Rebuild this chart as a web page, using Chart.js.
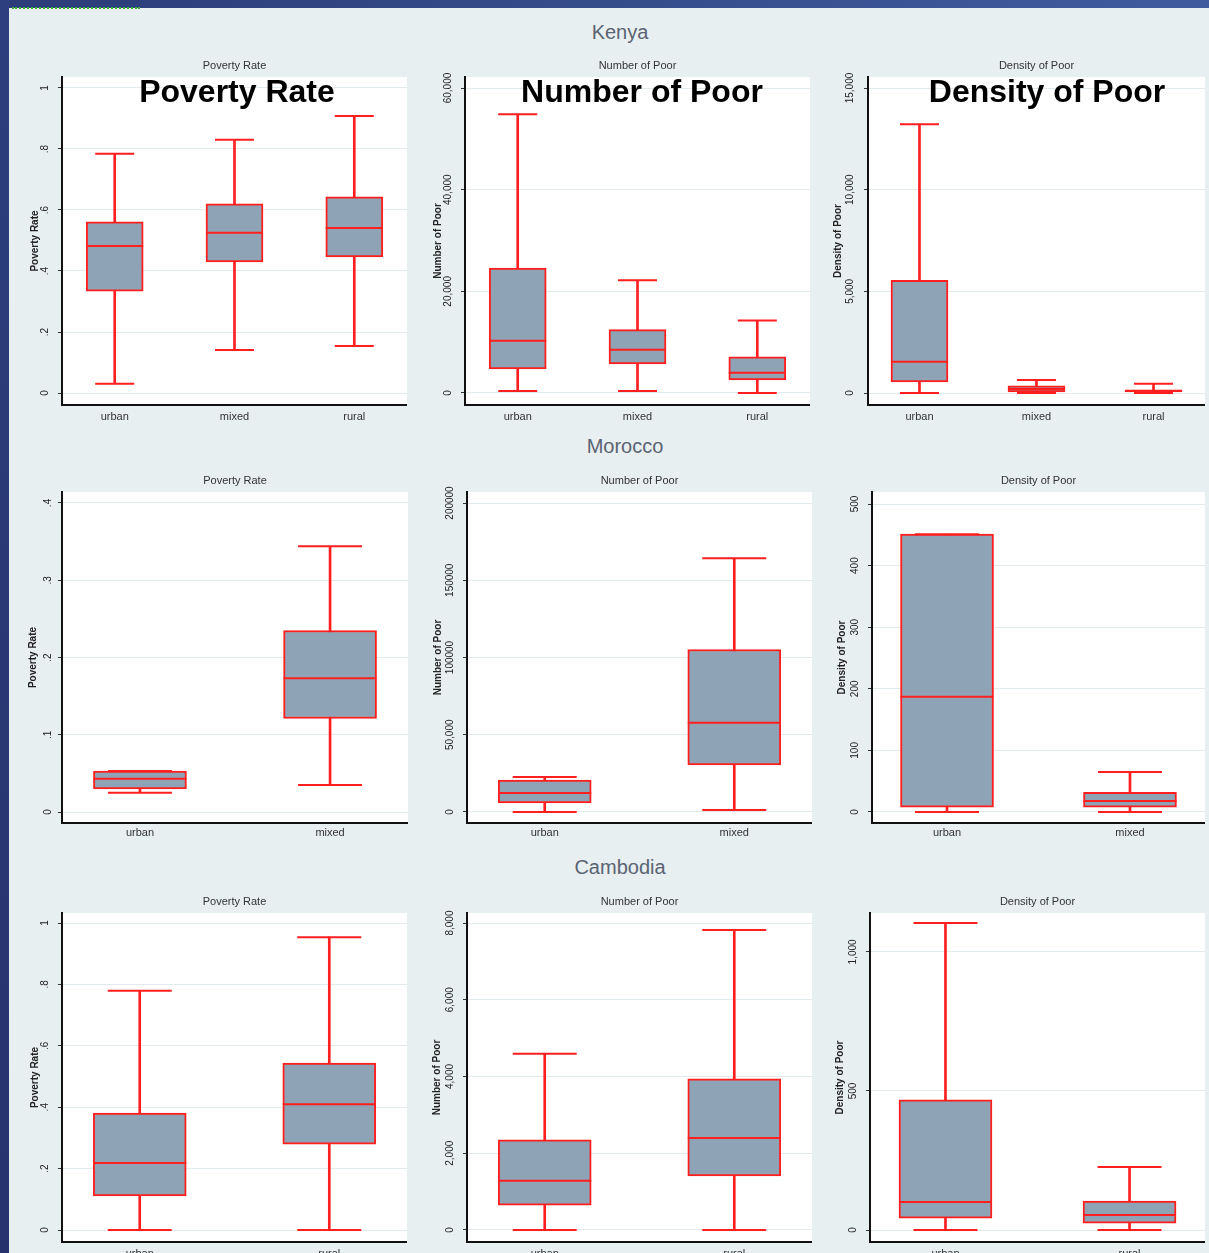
<!DOCTYPE html>
<html>
<head>
<meta charset="utf-8">
<script src="https://cdn.jsdelivr.net/npm/chart.js@4.4.0/dist/chart.umd.min.js"></script>
<style>
  body {
    margin: 0;
    width: 1209px;
    height: 1253px;
    overflow: hidden;
    position: relative;
    background: #e8eff1;
    font-family: "Liberation Sans", Arial, sans-serif;
  }
  #top-strip { position: absolute; left: 0; top: 0; width: 1209px; height: 8px; background: linear-gradient(90deg, #2b3c78, #405c9e); }
  #left-strip { position: absolute; left: 0; top: 0; width: 9px; height: 1253px; background: linear-gradient(180deg, #2d3f7e, #26326c); }
  #dots { position: absolute; left: 12px; top: 7px; width: 128px; border-top: 2px dotted #3cb43c; }
  .country { position: absolute; width: 300px; text-align: center; font-size: 20px; line-height: 24px; color: #5a6472; }
  .big { position: absolute; width: 340px; text-align: center; font-size: 32px; line-height: 36px; font-weight: bold; color: #000; }
  canvas { position: absolute; }
</style>
</head>
<body>
<div id="top-strip"></div>
<div id="left-strip"></div>
<div id="dots"></div>

<script>
// ### data ###
// every box is [lower whisker, q1, median, q3, upper whisker]
const KENYA_CATS = ["urban", "mixed", "rural"];
const MOROCCO_CATS = ["urban", "mixed"];
const CAMBODIA_CATS = ["urban", "rural"];

const KENYA_RATE = [[0.03, 0.334, 0.482, 0.561, 0.784], [0.141, 0.43, 0.525, 0.62, 0.83], [0.154, 0.446, 0.541, 0.643, 0.908]];
const KENYA_NUMBER = [[400, 4750, 10300, 24550, 54850], [400, 5740, 8500, 12470, 22180], [0, 2570, 3960, 7130, 14260]];
const KENYA_DENSITY = [[0, 545, 1535, 5545, 13220], [0, 50, 200, 350, 640], [0, 50, 100, 150, 450]];

const MOROCCO_RATE = [[0.025, 0.03, 0.043, 0.053, 0.053], [0.035, 0.121, 0.173, 0.235, 0.344]];
const MOROCCO_NUMBER = [[0, 5800, 12300, 20700, 22650], [1300, 30500, 57800, 105200, 164300]];
const MOROCCO_DENSITY = [[0, 8, 187, 451, 451], [0, 8, 18, 32, 65]];

const CAMBODIA_RATE = [[0, 0.111, 0.218, 0.381, 0.779], [0, 0.28, 0.41, 0.544, 0.954]];
const CAMBODIA_NUMBER = [[0, 650, 1280, 2350, 4590], [0, 1410, 2400, 3940, 7820]];
const CAMBODIA_DENSITY = [[0, 43, 101, 468, 1104], [0, 25, 54, 104, 227]];

// tick values and their labels
const RATE_TICKS = [0, 0.2, 0.4, 0.6, 0.8, 1];
const RATE_LABELS = ["0", ".2", ".4", ".6", ".8", "1"];
const KENYA_NUMBER_TICKS = [0, 20000, 40000, 60000];
const KENYA_NUMBER_LABELS = ["0", "20,000", "40,000", "60,000"];
const KENYA_DENSITY_TICKS = [0, 5000, 10000, 15000];
const KENYA_DENSITY_LABELS = ["0", "5,000", "10,000", "15,000"];
const MOROCCO_RATE_TICKS = [0, 0.1, 0.2, 0.3, 0.4];
const MOROCCO_RATE_LABELS = ["0", ".1", ".2", ".3", ".4"];
const MOROCCO_NUMBER_TICKS = [0, 50000, 100000, 150000, 200000];
const MOROCCO_NUMBER_LABELS = ["0", "50,000", "100000", "150000", "200000"];
const MOROCCO_DENSITY_TICKS = [0, 100, 200, 300, 400, 500];
const MOROCCO_DENSITY_LABELS = ["0", "100", "200", "300", "400", "500"];
const CAMBODIA_NUMBER_TICKS = [0, 2000, 4000, 6000, 8000];
const CAMBODIA_NUMBER_LABELS = ["0", "2,000", "4,000", "6,000", "8,000"];
const CAMBODIA_DENSITY_TICKS = [0, 500, 1000];
const CAMBODIA_DENSITY_LABELS = ["0", "500", "1,000"];

// ### colors ###
const RED = "#ff1f1f";
const BOX_FILL = "#8ea3b5";
const GRID = "#e2eaed";
const AXIS = "#111111";
const FONT = "'Liberation Sans', Arial, sans-serif";
const TICK_SIZE = 10;

// ### layout ###
const COUNTRIES = [
  { name: "Kenya", x: 620, y: 32 },
  { name: "Morocco", x: 625, y: 446 },
  { name: "Cambodia", x: 620, y: 867 },
];
const BIG_TITLES = [
  { text: "Poverty Rate", x: 237, y: 91 },
  { text: "Number of Poor", x: 642, y: 91 },
  { text: "Density of Poor", x: 1047, y: 91 },
];

const PANELS = [
  // Kenya
  { cats: KENYA_CATS, stats: KENYA_RATE, ticks: RATE_TICKS, labels: RATE_LABELS, title: "Poverty Rate",
    yMin: -0.0393, yMax: 1.036, canvasLeft: 10, left: 62, right: 407, top: 77, bottom: 405, titleX: 35, labelDist: 17, xPad: 5 },
  { cats: KENYA_CATS, stats: KENYA_NUMBER, ticks: KENYA_NUMBER_TICKS, labels: KENYA_NUMBER_LABELS, title: "Number of Poor",
    yMin: -2361, yMax: 62164, canvasLeft: 415, left: 465, right: 810, top: 77, bottom: 405, titleX: 438, labelDist: 17, xPad: 5 },
  { cats: KENYA_CATS, stats: KENYA_DENSITY, ticks: KENYA_DENSITY_TICKS, labels: KENYA_DENSITY_LABELS, title: "Density of Poor",
    yMin: -590, yMax: 15541, canvasLeft: 818, left: 868, right: 1205, top: 77, bottom: 405, titleX: 838, labelDist: 18, xPad: 5 },
  // Morocco
  { cats: MOROCCO_CATS, stats: MOROCCO_RATE, ticks: MOROCCO_RATE_TICKS, labels: MOROCCO_RATE_LABELS, title: "Poverty Rate",
    yMin: -0.0142, yMax: 0.4142, canvasLeft: 10, left: 62, right: 408, top: 492, bottom: 823, titleX: 33, labelDist: 14, xPad: 3 },
  { cats: MOROCCO_CATS, stats: MOROCCO_NUMBER, ticks: MOROCCO_NUMBER_TICKS, labels: MOROCCO_NUMBER_LABELS, title: "Number of Poor",
    yMin: -7120, yMax: 207120, canvasLeft: 415, left: 467, right: 812, top: 492, bottom: 823, titleX: 438, labelDist: 17, xPad: 3 },
  { cats: MOROCCO_CATS, stats: MOROCCO_DENSITY, ticks: MOROCCO_DENSITY_TICKS, labels: MOROCCO_DENSITY_LABELS, title: "Density of Poor",
    yMin: -17.9, yMax: 519.5, canvasLeft: 818, left: 872, right: 1205, top: 492, bottom: 823, titleX: 842, labelDist: 17, xPad: 3 },
  // Cambodia
  { cats: CAMBODIA_CATS, stats: CAMBODIA_RATE, ticks: RATE_TICKS, labels: RATE_LABELS, title: "Poverty Rate",
    yMin: -0.039, yMax: 1.0326, canvasLeft: 10, left: 62, right: 407, top: 913, bottom: 1242, titleX: 35, labelDist: 17, xPad: 5 },
  { cats: CAMBODIA_CATS, stats: CAMBODIA_NUMBER, ticks: CAMBODIA_NUMBER_TICKS, labels: CAMBODIA_NUMBER_LABELS, title: "Number of Poor",
    yMin: -313, yMax: 8261, canvasLeft: 415, left: 467, right: 812, top: 913, bottom: 1242, titleX: 437, labelDist: 17, xPad: 5 },
  { cats: CAMBODIA_CATS, stats: CAMBODIA_DENSITY, ticks: CAMBODIA_DENSITY_TICKS, labels: CAMBODIA_DENSITY_LABELS, title: "Density of Poor",
    yMin: -43, yMax: 1140, canvasLeft: 818, left: 870, right: 1205, top: 913, bottom: 1242, titleX: 840, labelDist: 17, xPad: 5 },
];

// white plot area like stata
const plotBackground = {
  id: "plotBackground",
  beforeDraw(chart) {
    const { ctx, chartArea: a } = chart;
    ctx.save();
    ctx.fillStyle = "#ffffff";
    ctx.fillRect(a.left, a.top, a.right - a.left, a.bottom - a.top);
    ctx.restore();
  },
};

// ### rendering ###
function addText(cls, text, x, y, w, h) {
  const div = document.createElement("div");
  div.className = cls;
  div.textContent = text;
  div.style.left = x - w / 2 + "px";
  div.style.top = y - h / 2 + "px";
  document.body.appendChild(div);
}

function widestLabel(ctx, labels) {
  ctx.font = TICK_SIZE + "px " + FONT;
  let w = 0;
  labels.forEach((l) => { w = Math.max(w, ctx.measureText(l).width); });
  return w;
}

// no label overhang padding, the plot area is placed by hand
function clearPadding(scale) {
  scale.paddingTop = 0;
  scale.paddingBottom = 0;
  scale.paddingLeft = 0;
  scale.paddingRight = 0;
}

function renderPanel(p) {
  const canvas = document.createElement("canvas");
  const top = p.top - 22;
  const width = p.right - p.canvasLeft;
  const height = p.bottom + 25 - top;
  canvas.width = width;
  canvas.height = height;
  canvas.style.left = p.canvasLeft + "px";
  canvas.style.top = top + "px";
  canvas.style.width = width + "px";
  canvas.style.height = height + "px";
  document.body.appendChild(canvas);

  const n = p.cats.length;
  const boxWidth = n === 3 ? 57 : 93;
  const capRadius = n === 3 ? 19.5 : 32;
  const tickPad = p.labelDist - 4 - widestLabel(canvas.getContext("2d"), p.labels) / 2;

  const points = (k) => p.stats.map((s, i) => ({ x: i + 1, y: s[k] }));
  const marker = (k, radius) => ({
    type: "line",
    data: points(k),
    showLine: false,
    pointStyle: "line",
    pointRadius: radius,
    pointHoverRadius: radius,
    pointBorderColor: RED,
    pointBackgroundColor: RED,
    pointBorderWidth: 2,
  });

  new Chart(canvas, {
    type: "bar",
    data: {
      datasets: [
        marker(2, boxWidth / 2),
        marker(4, capRadius),
        marker(0, capRadius),
        {
          type: "bar",
          data: p.stats.map((s, i) => ({ x: i + 1, y: [s[1], s[3]] })),
          backgroundColor: BOX_FILL,
          borderColor: RED,
          borderWidth: 2,
          borderSkipped: false,
          barThickness: boxWidth,
          grouped: false,
        },
        {
          type: "bar",
          data: p.stats.map((s, i) => ({ x: i + 1, y: [s[0], s[4]] })),
          backgroundColor: RED,
          borderWidth: 0,
          barThickness: 2,
          grouped: false,
        },
      ],
    },
    options: {
      responsive: false,
      animation: false,
      events: [],
      layout: { padding: 0, autoPadding: false },
      plugins: {
        legend: { display: false },
        tooltip: { enabled: false },
        title: {
          display: true,
          text: p.title,
          fullSize: false,
          color: "#333",
          font: { family: FONT, size: 11, weight: "normal", lineHeight: "11px" },
          padding: { top: 5.5, bottom: 5.5 },
        },
      },
      scales: {
        x: {
          type: "linear",
          offset: false,
          min: n === 3 ? 0.56 : 0.59,
          max: n === 3 ? 3.44 : 2.41,
          afterFit: (scale) => { scale.height = 25; clearPadding(scale); },
          afterBuildTicks: (scale) => { scale.ticks = p.cats.map((c, i) => ({ value: i + 1 })); },
          grid: { display: false, drawTicks: false },
          border: { display: true, color: AXIS, width: 2 },
          ticks: {
            autoSkip: false,
            maxRotation: 0,
            padding: p.xPad,
            color: "#333",
            font: { family: FONT, size: 11 },
            callback: (value) => p.cats[value - 1],
          },
        },
        y: {
          min: p.yMin,
          max: p.yMax,
          afterFit: (scale) => { scale.width = p.left - p.canvasLeft; clearPadding(scale); },
          afterBuildTicks: (scale) => { scale.ticks = p.ticks.map((v) => ({ value: v })); },
          grid: { color: GRID, lineWidth: 1, tickLength: 4, tickColor: "#333", tickWidth: 1 },
          border: { display: true, color: AXIS, width: 2 },
          title: {
            display: true,
            text: p.title,
            color: "#222",
            font: { family: FONT, size: 10, weight: "bold" },
            padding: { top: p.titleX - p.canvasLeft - 6, bottom: 0 },
          },
          ticks: {
            autoSkip: false,
            minRotation: 90,
            maxRotation: 90,
            crossAlign: "center",
            padding: tickPad,
            color: "#222",
            font: { family: FONT, size: TICK_SIZE },
            callback: (value, index) => p.labels[index],
          },
        },
      },
    },
    plugins: [plotBackground],
  });
}

// ### application start ###
function main() {
  COUNTRIES.forEach((c) => addText("country", c.name, c.x, c.y, 300, 24));
  PANELS.forEach(renderPanel);
  BIG_TITLES.forEach((t) => addText("big", t.text, t.x, t.y, 340, 36));
}

main();
</script>
</body>
</html>
